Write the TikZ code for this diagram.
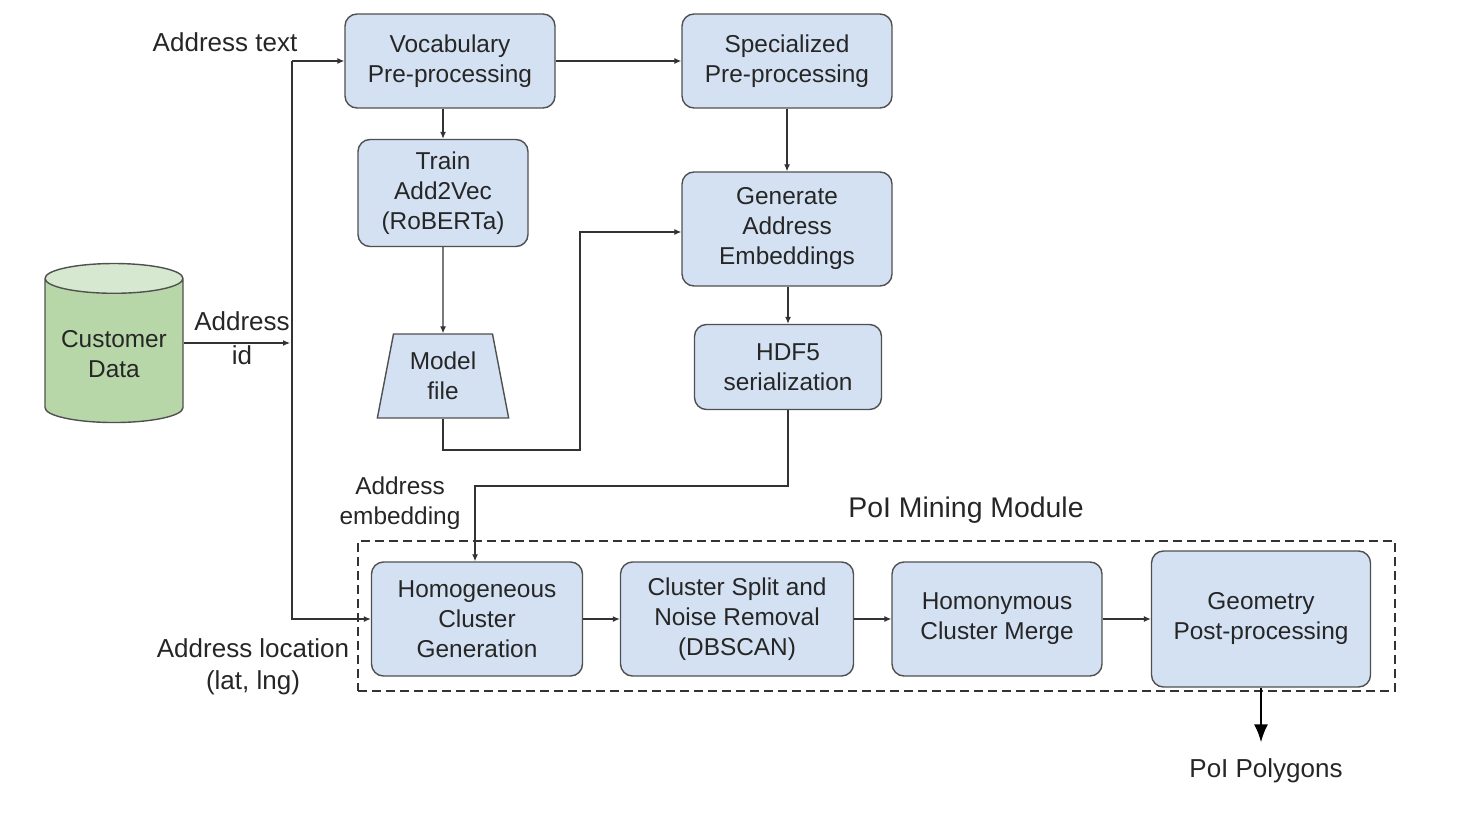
\documentclass[tikz,border=0pt]{standalone}
\usepackage{fontspec}
\setmainfont{Liberation Sans}
\usetikzlibrary{arrows.meta,shapes.geometric}
\definecolor{boxblue}{HTML}{D3E1F2}
\definecolor{boxline}{HTML}{505050}
\definecolor{dbgreen}{HTML}{B8D7A9}
\definecolor{dbtop}{HTML}{D6E8CF}
\definecolor{linegray}{HTML}{333333}
\tikzset{
stage/.style={draw=boxline, line width=0.7pt, fill=boxblue, rounded corners=6pt, align=center, text=black!85, inner sep=2pt},
tag/.style={align=center, text=black!85, inner sep=1pt, font=\fontsize{13}{16}\selectfont},
flow/.style={draw=linegray, line width=0.6pt, -{Latex[length=3.5pt,width=3pt]}},
bigflow/.style={draw=black, line width=1.2pt, -{Latex[length=9pt,width=7pt]}},
modulebox/.style={draw=linegray, line width=0.6pt, dash pattern=on 4.5pt off 2.5pt, minimum width=518.5pt, minimum height=75pt},
}

\begin{document}
\begin{tikzpicture}[x=0.5pt,y=-0.5pt,font=\fontsize{12.2}{15}\selectfont]
\useasboundingbox (0,0) rectangle (1470,818);
\node[modulebox] (module) at (876.5,616) {};
\node[stage, minimum width=105pt, minimum height=47pt] (vocab) at (450,61) {Vocabulary\\Pre-processing};
\node[stage, minimum width=105pt, minimum height=47pt] (spec) at (787,61) {Specialized\\Pre-processing};
\node[stage, minimum width=85pt, minimum height=53.5pt] (train) at (443,193) {Train\\Add2Vec\\(RoBERTa)};
\node[stage, minimum width=105pt, minimum height=57pt] (gen) at (787,229) {Generate\\Address\\Embeddings};
\node[stage, minimum width=93.5pt, minimum height=42.5pt] (hdf) at (788,367) {HDF5\\serialization};
\node[draw=boxline, line width=0.7pt, fill=boxblue, align=center, text=black!85, trapezium, trapezium left angle=78, trapezium right angle=78, trapezium stretches=true, minimum width=66pt, minimum height=42pt] (model) at (443,376) {Model\\file};
\node[draw=boxline, line width=0.7pt, cylinder, shape border rotate=90, aspect=0.25, cylinder uses custom fill, cylinder body fill=dbgreen, cylinder end fill=dbtop, minimum width=69pt, minimum height=79.5pt, align=center, text=black!85] (cust) at (114,354) {Customer\\Data};
\node[stage, minimum width=105.5pt, minimum height=57pt] (homog) at (477,619) {Homogeneous\\Cluster\\Generation};
\node[stage, minimum width=116.5pt, minimum height=57pt] (split) at (737,619) {Cluster Split and\\Noise Removal\\(DBSCAN)};
\node[stage, minimum width=105pt, minimum height=57pt] (homon) at (997,619) {Homonymous\\Cluster Merge};
\node[stage, minimum width=109.5pt, minimum height=68pt] (geom) at (1261,619) {Geometry\\Post-processing};

\node[tag] (addrtext) at (225,42) {Address text};
\node[tag] (addrid) at (242,338) {Address\\[1pt]id};
\node[tag] (addrloc) at (253,667) {Address location\\(lat, lng)};
\node[tag, font=\fontsize{12.2}{15}\selectfont] (addremb) at (400,503) {Address\\embedding};
\node[tag, font=\fontsize{14.2}{17}\selectfont] (modtitle) at (966,510) {PoI Mining Module};
\node[tag, inner sep=8pt] (poly) at (1266,771) {PoI Polygons};

\coordinate (trunktop) at (292,61);
\coordinate (trunkmid) at (290,343);
\coordinate (mbend) at (580,450);
\coordinate (hbend) at (475,486);

\draw[flow] (trunktop) -- (vocab.west);
\draw[flow] (trunktop) |- (homog.west);
\draw[flow] (cust.east |- trunkmid) -- (trunkmid);
\draw[flow] (vocab.east) -- (spec.west);
\draw[flow] (vocab.south -| train.north) -- (train.north);
\draw[flow] (train.south) -- (model.north);
\draw[flow] (model.south) |- (mbend) |- ([yshift=-1.5pt]gen.west);
\draw[flow] (spec.south) -- (gen.north);
\draw[flow] (gen.south -| hdf.north) -- (hdf.north);
\draw[flow] (hdf.south) |- (hbend) -- (hbend |- homog.north);
\draw[flow] (homog.east) -- (split.west);
\draw[flow] (split.east) -- (homon.west);
\draw[flow] (homon.east) -- (geom.west);
\draw[bigflow] (geom.south) -- (geom.south |- poly.north);
\end{tikzpicture}
\end{document}
